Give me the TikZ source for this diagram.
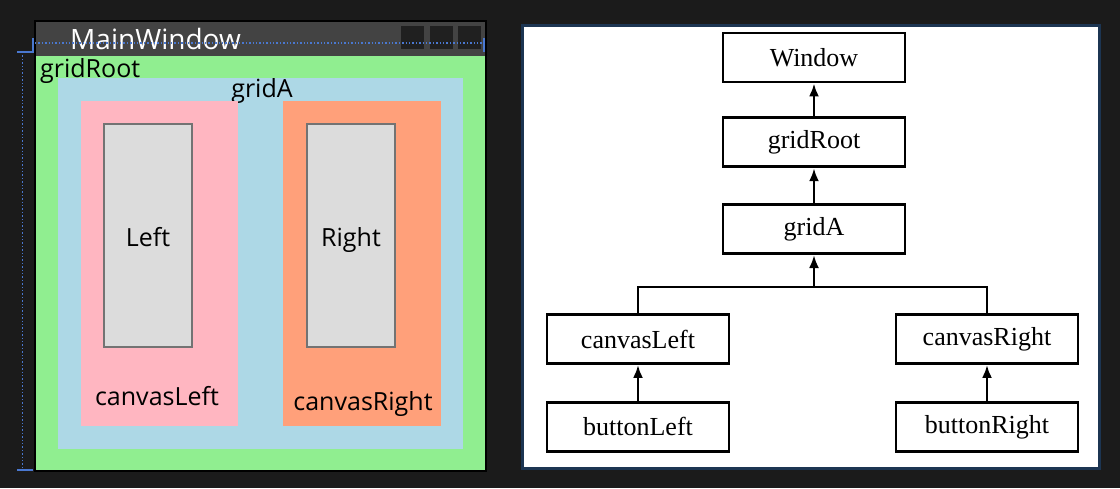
\documentclass[tikz,border=0pt]{standalone}
\usepackage{fontspec}
\setmainfont{Liberation Serif}
\newfontfamily\uifont{Open Sans}
\usepackage{tikz}
\usetikzlibrary{arrows.meta,positioning}

\definecolor{darkbg}{HTML}{1B1B1B}
\definecolor{titlegray}{HTML}{434343}
\definecolor{btngray}{HTML}{202020}
\definecolor{guideblue}{HTML}{4A78D0}
\definecolor{panelblue}{HTML}{1C3552}
\definecolor{rootgreen}{HTML}{90EE90}
\definecolor{gridblue}{HTML}{ADD8E6}
\definecolor{leftpink}{HTML}{FFB6C1}
\definecolor{rightsalmon}{HTML}{FFA07A}
\definecolor{innergray}{HTML}{DCDCDC}

\begin{document}
\begin{tikzpicture}[x=1pt,y=-1pt]
    \tikzset{
      uilabel/.style={font=\uifont\fontsize{25}{30}\selectfont,inner sep=0pt},
      innerbox/.style={fill=innergray,draw=black!55,line width=1.4pt},
      guide/.style={guideblue,line width=1.4pt},
      rectnode/.style={rectangle,draw=black,line width=2.8pt,minimum width=182pt,minimum height=49pt,inner sep=0pt,font=\fontsize{26}{30}\selectfont},
      arrow/.style={-{Latex[length=13pt,width=10pt]},line width=2.8pt}
    }
    \fill[darkbg] (0,0) rectangle (1120,488);

    % designer view
    \fill[titlegray] (35,21) rectangle (486,56);
    \foreach \x in {401,430,458}
      \fill[btngray] (\x,26) rectangle ++(23,23);
    \node[uilabel,white,font=\uifont\fontsize{28}{32}\selectfont,anchor=base west] (title) at (70,49) {MainWindow};
    \fill[rootgreen] (35,56) rectangle (486,471);
    \draw[black,line width=1.2pt] (35,21) rectangle (486,471);
    \draw[guide,dotted] (35,43) -- (484,43);
    \draw[guide] (33,38) -- (33,52) -- (17,52);
    \draw[guide] (484,38) -- (484,52);
    \draw[guide,dotted] (22.5,52) -- (22.5,470);
    \draw[guide] (17,470) -- (33,470);
    \node[uilabel,anchor=base west] (rootlabel) at (40,77) {gridRoot};

    \fill[gridblue] (58,78) rectangle (463,449);
    \node[uilabel,anchor=base] (gridlabel) at (262,97) {gridA};
    \fill[leftpink] (81,101) rectangle (238,426);
    \fill[rightsalmon] (283,101) rectangle (441,426);
    \draw[innerbox] (104,124) rectangle (192,347);
    \draw[innerbox] (307,124) rectangle (395,347);
    \node[uilabel,anchor=base] (leftlabel) at (148,246) {Left};
    \node[uilabel,anchor=base] (rightlabel) at (351,246) {Right};
    \node[uilabel,anchor=base] (canvasleftlabel) at (157,405) {canvasLeft};
    \node[uilabel,anchor=base] (canvasrightlabel) at (363,410) {canvasRight};

    % element tree
    \draw[panelblue,line width=2.5pt] (522.5,25.5) rectangle (1099.5,468.5);
    \fill[white] (524,27) rectangle (1098,467);
    \node[rectnode] (window) at (814,57.5) {Window};
    \node[rectnode,below=33pt of window] (gridroot) {gridRoot};
    \node[rectnode,below=35pt of gridroot] (grida) {gridA};
    \node[rectnode] (canvasleft) at (638,339) {canvasLeft};
    \node[rectnode] (canvasright) at (987,339) {canvasRight};
    \node[rectnode,below=36pt of canvasleft] (buttonleft) {buttonLeft};
    \node[rectnode,below=36pt of canvasright] (buttonright) {buttonRight};
    \coordinate (fork) at ([yshift=-32pt]grida.south);

    \draw[arrow] (gridroot) -- (window);
    \draw[arrow] (grida) -- (gridroot);
    \draw[arrow] (fork) -- (grida.south);
    \draw[line width=2.8pt] (canvasleft.north) |- (fork) -| (canvasright.north);
    \draw[arrow] (buttonleft) -- (canvasleft);
    \draw[arrow] (buttonright) -- (canvasright);
  \end{tikzpicture}
\end{document}
